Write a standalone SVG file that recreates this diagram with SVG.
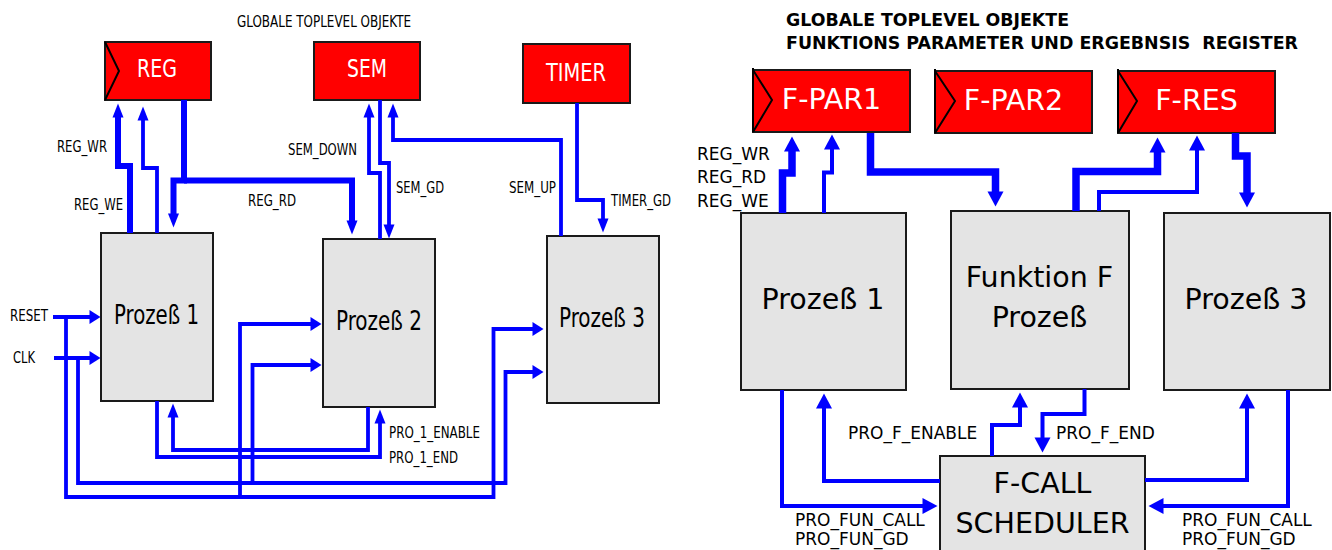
<svg xmlns="http://www.w3.org/2000/svg" width="1332" height="550" viewBox="0 0 1332 550">
<style>
.box{fill:#e4e4e4;stroke:#1a1a1a;stroke-width:2}
.reg{fill:#ff0000;stroke:#1a1a1a;stroke-width:2}
.chev{fill:none;stroke:#000;stroke-width:2}
.w{fill:none;stroke:#0000ff;stroke-linejoin:miter;stroke-linecap:butt}
.t{stroke-width:3.8}
.k{stroke-width:6}
.tr{stroke-width:4}
.kr{stroke-width:7.5}
.av{marker-end:url(#av)}
.ah{marker-end:url(#ah)}
.ar{marker-end:url(#ar)}
.c{font-family:"DejaVu Sans Condensed","DejaVu Sans",sans-serif;fill:#000}
.d{font-family:"DejaVu Sans",sans-serif;fill:#000}
.wt{fill:#fff}
.lbl{font-size:16px}
.rl{font-size:17px}
.big{font-size:28.5px}
.ttl{font-size:17px;font-weight:bold}
</style>
<defs>
<marker id="av" markerUnits="userSpaceOnUse" markerWidth="14" markerHeight="11" refX="0.5" refY="5.5" orient="auto" overflow="visible"><path d="M0,0 L14,5.5 L0,11 z" fill="#0000ff"/></marker>
<marker id="ah" markerUnits="userSpaceOnUse" markerWidth="11" markerHeight="14" refX="0.5" refY="7" orient="auto" overflow="visible"><path d="M0,0 L11,7 L0,14 z" fill="#0000ff"/></marker>
<marker id="ar" markerUnits="userSpaceOnUse" markerWidth="15" markerHeight="16" refX="0.5" refY="8" orient="auto" overflow="visible"><path d="M0,0 L15,8 L0,16 z" fill="#0000ff"/></marker>
</defs>
<rect width="1332" height="550" fill="#fff"/>

<!-- LEFT DIAGRAM -->
<text class="c" x="237" y="27" font-size="15" textLength="174" lengthAdjust="spacingAndGlyphs">GLOBALE TOPLEVEL OBJEKTE</text>

<g id="reg">
<rect class="reg" x="105" y="42" width="106" height="58"/>
<polyline class="chev" points="105,42 119,71 105,100"/>
<text class="c wt" x="137" y="77" font-size="24.5" textLength="40" lengthAdjust="spacingAndGlyphs">REG</text>
</g>
<g id="sem">
<rect class="reg" x="314" y="42" width="106" height="58"/>
<text class="c wt" x="347" y="77" font-size="24.5" textLength="40" lengthAdjust="spacingAndGlyphs">SEM</text>
</g>
<g id="timer">
<rect class="reg" x="523" y="44" width="107" height="59"/>
<text class="c wt" x="546" y="81" font-size="24.5" textLength="60" lengthAdjust="spacingAndGlyphs">TIMER</text>
</g>
<g id="prozess1-left">
<rect class="box" x="101" y="233" width="112" height="168"/>
<text class="c" x="114" y="324" font-size="26" textLength="85" lengthAdjust="spacingAndGlyphs">Prozeß 1</text>
</g>
<g id="prozess2-left">
<rect class="box" x="323" y="239" width="112" height="168"/>
<text class="c" x="336" y="330" font-size="26" textLength="86" lengthAdjust="spacingAndGlyphs">Prozeß 2</text>
</g>
<g id="prozess3-left">
<rect class="box" x="547" y="236" width="112" height="167"/>
<text class="c" x="559" y="327" font-size="26" textLength="86" lengthAdjust="spacingAndGlyphs">Prozeß 3</text>
</g>

<g id="connectors-left">
<path class="w k av" d="M130,233 V166 H118 V117"/>
<path class="w t av" d="M157,233 V168 H143 V120"/>
<path class="w k av" d="M184,100 V180.5 H173.5 V214"/>
<path class="w k av" d="M184,180.5 H352 V221"/>
<path class="w t av" d="M380,239 V173 H369 V117"/>
<path class="w t av" d="M380,100 V163 H389 V225"/>
<path class="w t av" d="M561,236 V140 H393 V117"/>
<path class="w t av" d="M577,103 V200 H603 V219"/>
<path class="w t ah" d="M53,317 H90"/>
<path class="w t ah" d="M66,317 V497 H493.5 V329 H533"/>
<path class="w t ah" d="M240,497 V324 H311"/>
<path class="w t ah" d="M54,358 H90"/>
<path class="w t ah" d="M78,358 V483 H505.5 V372 H533"/>
<path class="w t ah" d="M252.5,483 V365 H311"/>
<path class="w t av" d="M368,407 V450 H173 V417"/>
<path class="w t av" d="M157,401 V457 H380 V423"/>
</g>
<g id="labels-left" class="c lbl">
<text x="57" y="152" textLength="50" lengthAdjust="spacingAndGlyphs">REG_WR</text>
<text x="74" y="210" textLength="49" lengthAdjust="spacingAndGlyphs">REG_WE</text>
<text x="248" y="206" textLength="48" lengthAdjust="spacingAndGlyphs">REG_RD</text>
<text x="288" y="155" textLength="69" lengthAdjust="spacingAndGlyphs">SEM_DOWN</text>
<text x="396" y="193" textLength="48" lengthAdjust="spacingAndGlyphs">SEM_GD</text>
<text x="509" y="193" textLength="47" lengthAdjust="spacingAndGlyphs">SEM_UP</text>
<text x="611" y="206" textLength="60" lengthAdjust="spacingAndGlyphs">TIMER_GD</text>
<text x="10" y="321" textLength="38" lengthAdjust="spacingAndGlyphs">RESET</text>
<text x="13" y="363" textLength="22" lengthAdjust="spacingAndGlyphs">CLK</text>
<text x="389" y="438" textLength="91" lengthAdjust="spacingAndGlyphs">PRO_1_ENABLE</text>
<text x="389" y="463" textLength="69" lengthAdjust="spacingAndGlyphs">PRO_1_END</text>
</g>

<!-- RIGHT DIAGRAM -->
<text class="d ttl" x="786" y="26" textLength="283" lengthAdjust="spacingAndGlyphs">GLOBALE TOPLEVEL OBJEKTE</text>
<text class="d ttl" x="786" y="49" xml:space="preserve" textLength="512" lengthAdjust="spacingAndGlyphs">FUNKTIONS PARAMETER UND ERGEBNSIS  REGISTER</text>

<g id="f-par1">
<rect class="reg" x="753" y="70" width="157" height="62"/>
<polyline class="chev" points="753,68 753,132"/>
<polyline class="chev" points="753,70 772,100 753,132"/>
<text class="d wt big" x="831.5" y="109" text-anchor="middle">F-PAR1</text>
</g>
<g id="f-par2">
<rect class="reg" x="935" y="71" width="157" height="62"/>
<polyline class="chev" points="935,69 935,133"/>
<polyline class="chev" points="935,71 955,101 935,133"/>
<text class="d wt big" x="1013.5" y="110" text-anchor="middle">F-PAR2</text>
</g>
<g id="f-res">
<rect class="reg" x="1118" y="71" width="157" height="62"/>
<polyline class="chev" points="1118,69 1118,133"/>
<polyline class="chev" points="1118,71 1137,101 1118,133"/>
<text class="d wt big" x="1196.5" y="110" text-anchor="middle">F-RES</text>
</g>
<g id="prozess1-right">
<rect class="box" x="741" y="213" width="165" height="177"/>
<text class="d big" x="823" y="309" text-anchor="middle">Prozeß 1</text>
</g>
<g id="funktion-f">
<rect class="box" x="951" y="211" width="178" height="178"/>
<text class="d big" x="1039.5" y="287" text-anchor="middle">Funktion F</text>
<text class="d big" x="1039.5" y="327" text-anchor="middle">Prozeß</text>
</g>
<g id="prozess3-right">
<rect class="box" x="1164" y="213" width="166" height="177"/>
<text class="d big" x="1246" y="309" text-anchor="middle">Prozeß 3</text>
</g>
<g id="scheduler">
<rect class="box" x="940" y="456" width="205" height="110"/>
<text class="d big" x="1042.5" y="493" text-anchor="middle">F-CALL</text>
<text class="d big" x="1042.5" y="533" text-anchor="middle">SCHEDULER</text>
</g>

<g id="connectors-right">
<path class="w kr ar" d="M782.5,213 V173 H792 V151"/>
<path class="w tr ar" d="M824,213 V172.5 H832 V149"/>
<path class="w kr ar" d="M870.5,133 V172 H995.5 V192"/>
<path class="w kr ar" d="M1076,211 V171.5 H1157.5 V152"/>
<path class="w tr ar" d="M1099,211 V192 H1197 V150"/>
<path class="w kr ar" d="M1235.5,133 V156 H1247 V193"/>
<path class="w tr ar" d="M782,390 V506 H923"/>
<path class="w tr ar" d="M940,481 H824 V408"/>
<path class="w tr ar" d="M992,456 V425 H1020 V407"/>
<path class="w tr ar" d="M1084.5,389 V414 H1042.5 V438"/>
<path class="w tr ar" d="M1145,480 H1247 V408"/>
<path class="w tr ar" d="M1288,390 V506 H1163"/>
</g>
<g id="labels-right" class="d rl">
<text x="697" y="160">REG_WR</text>
<text x="697" y="183">REG_RD</text>
<text x="697" y="207">REG_WE</text>
<text x="848" y="439">PRO_F_ENABLE</text>
<text x="1056" y="439">PRO_F_END</text>
<text x="795" y="526">PRO_FUN_CALL</text>
<text x="795" y="545">PRO_FUN_GD</text>
<text x="1182" y="526">PRO_FUN_CALL</text>
<text x="1182" y="545">PRO_FUN_GD</text>
</g>
</svg>
